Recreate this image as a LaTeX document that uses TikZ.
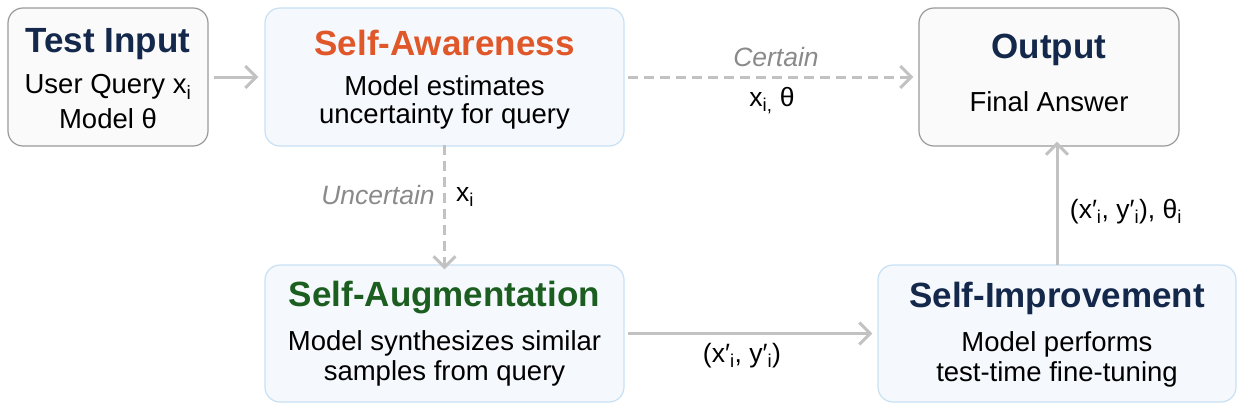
\documentclass[tikz,border=0pt]{standalone}
\usepackage{fontspec}
\setmainfont{Liberation Sans}
\usetikzlibrary{arrows.meta}
\definecolor{navy}{HTML}{14284B}
\definecolor{orng}{HTML}{E0582A}
\definecolor{dgreen}{HTML}{1B5E20}
\definecolor{arrowgray}{HTML}{C2C2C2}
\definecolor{labgray}{HTML}{8A8A8A}
\definecolor{graybd}{HTML}{9A9A9A}
\definecolor{grayfill}{HTML}{FAFAFA}
\definecolor{bluebd}{HTML}{C8E0F4}
\definecolor{bluefill}{HTML}{F5F9FD}
\newcommand{\sub}[1]{\textsubscript{#1}}
\tikzset{
  graybox/.style={draw=graybd, fill=grayfill, line width=1.2pt, rounded corners=15pt, inner sep=0pt},
  bluebox/.style={draw=bluebd, fill=bluefill, line width=1.2pt, rounded corners=15pt, inner sep=0pt},
  ttl/.style={font=\fontsize{35}{40}\selectfont\bfseries, inner sep=0pt},
  body/.style={font=\fontsize{27.5}{32}\selectfont, inner sep=0pt, text=black},
  lab/.style={font=\fontsize{26.5}{31}\selectfont, inner sep=0pt},
  ital/.style={font=\fontsize{26.5}{31}\selectfont\itshape, text=labgray, inner sep=0pt},
  conn/.style={draw=arrowgray, line width=3pt, -{Straight Barb[length=11pt,width=22pt,line width=3pt]}},
  dconn/.style={conn, dash pattern=on 10pt off 6pt},
}
\begin{document}
\begin{tikzpicture}[x=1pt,y=-1pt]
\useasboundingbox (0,0) rectangle (1251,410);
% boxes
\node[graybox, minimum width=200pt, minimum height=138pt] (ti) at (108,77) {};
\node[bluebox, minimum width=359pt, minimum height=138pt] (sa) at (444.5,77) {};
\node[graybox, minimum width=260pt, minimum height=138pt] (out) at (1049,77) {};
\node[bluebox, minimum width=359pt, minimum height=137pt] (sg) at (444.5,333.5) {};
\node[bluebox, minimum width=358pt, minimum height=137pt] (si) at (1057,333.5) {};
% texts
\node[ttl, text=navy] (tit) at (108,44) {Test Input};
\node[body] (ti1) at (108,87) {User Query x\sub{i}};
\node[body] (ti2) at (108,119) {Model θ};
\node[ttl, text=orng] (sat) at (444.5,43) {Self-Awareness};
\node[body] (sa1) at (444.5,86) {Model estimates};
\node[body] (sa2) at (444.5,116) {uncertainty for query};
\node[ttl, text=navy] (outt) at (1049,50) {Output};
\node[body] (out1) at (1049,102) {Final Answer};
\node[ttl, text=dgreen] (sgt) at (444.5,298) {Self-Augmentation};
\node[body] (sg1) at (444.5,343) {Model synthesizes similar};
\node[body] (sg2) at (444.5,373) {samples from query};
\node[ttl, text=navy] (sit) at (1057,298) {Self-Improvement};
\node[body] (si1) at (1057,344) {Model performs};
\node[body] (si2) at (1057,374) {test-time fine-tuning};
% connectors
\draw[conn] ([xshift=5pt]ti.east) -- ([xshift=-6pt]sa.west);
\draw[dconn] ([xshift=3pt]sa.east) -- ([xshift=-5pt]out.west);
\draw[dconn] ([yshift=2pt]sa.south) -- ([yshift=-5pt]sg.north);
\draw[conn] ([xshift=3pt]sg.east) -- ([xshift=-5pt]si.west);
\draw[conn] ([yshift=-1pt]si.north) -- ([yshift=5pt]out.south -| si.north);
% labels
\node[ital] (lc) at (776,57) {Certain};
\node[lab] (lx) at (772,101) {x\sub{i,} θ};
\node[ital] (lu) at (378,195) {Uncertain};
\node[lab] (lxi) at (465,197) {x\sub{i}};
\node[lab] (lxy) at (742,356) {(x′\sub{i}, y′\sub{i})};
\node[lab] (lxyt) at (1126,212) {(x′\sub{i}, y′\sub{i}), θ\sub{i}};
\end{tikzpicture}
\end{document}
